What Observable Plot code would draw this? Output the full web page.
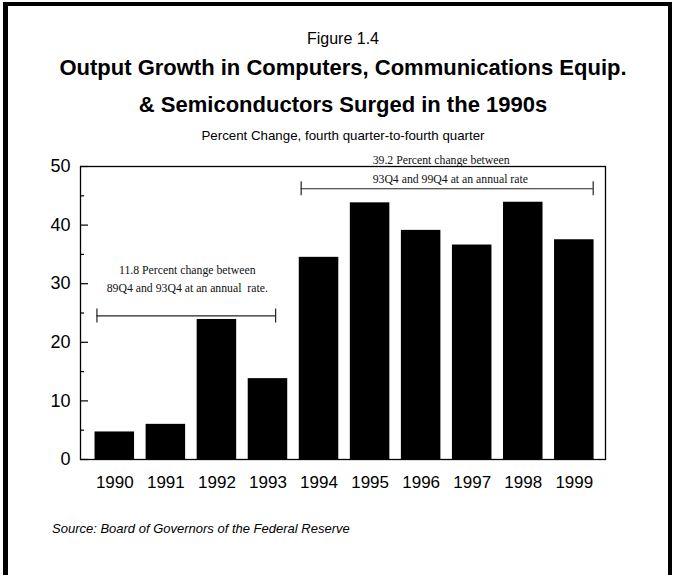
<!DOCTYPE html>
<html>
<head>
<meta charset="utf-8">
<script src="https://cdn.jsdelivr.net/npm/d3@7"></script>
<script src="https://cdn.jsdelivr.net/npm/@observablehq/plot@0.6"></script>
<style>
  html, body { margin: 0; padding: 0; background: #fff; }
  body { width: 674px; height: 575px; position: relative; overflow: hidden; font-family: "Liberation Sans", Arial, sans-serif; color: #000; }
  .border { position: absolute; left: 3px; top: 2px; width: 660px; height: 600px; border-left: 5px solid #000; border-top: 4px solid #000; border-right: 4px solid #000; }
  .t { position: absolute; left: 0; width: 686px; text-align: center; line-height: 1; white-space: nowrap; }
  #chart { position: absolute; left: 0; top: 140px; }
  #chart svg text { white-space: pre; }
</style>
</head>
<body>
<div class="border"></div>
<div class="t" style="top:31px;font-size:16px;">Figure 1.4</div>
<div class="t" style="top:57.4px;font-size:22px;font-weight:bold;">Output Growth in Computers, Communications Equip.</div>
<div class="t" style="top:94.4px;font-size:22px;font-weight:bold;">&amp; Semiconductors Surged in the 1990s</div>
<div class="t" style="top:128.7px;font-size:13.3px;">Percent Change, fourth quarter-to-fourth quarter</div>
<div id="chart"></div>
<div style="position:absolute;left:52px;top:522px;font-size:13px;font-style:italic;line-height:1;white-space:nowrap;">Source: Board of Governors of the Federal Reserve</div>
<script>
// ---- data ----
const years = [1990, 1991, 1992, 1993, 1994, 1995, 1996, 1997, 1998, 1999];
const growth = [4.7, 6.0, 23.9, 13.8, 34.5, 43.8, 39.1, 36.6, 43.9, 37.5];
const yTicks = [0, 10, 20, 30, 40, 50];
const yMinorTicks = [5, 15, 25, 35, 45];

// annotation periods (brackets): start, end, level
const periodStart = [1989.65, 1993.65];
const periodEnd = [1993.15, 1999.37];
const periodLevel = [24.5, 46.2];

// annotation text lines
const leftNoteText = ["11.8 Percent change between", "89Q4 and 93Q4 at an annual  rate."];
const leftNoteX = [1991.42, 1991.42];
const leftNoteY = [31.7, 28.65];
const rightNoteText = ["39.2 Percent change between", "93Q4 and 99Q4 at an annual rate"];
const rightNoteX = [1995.05, 1995.05];
const rightNoteY = [50.5, 47.25];

// ---- tables ----
const bars = years.map((year, i) => ({year, value: growth[i]}));
const brackets = periodStart.map((s, i) => ({from: s, to: periodEnd[i], level: periodLevel[i]}));
const leftNotes = leftNoteText.map((text, i) => ({text, x: leftNoteX[i], y: leftNoteY[i]}));
const rightNotes = rightNoteText.map((text, i) => ({text, x: rightNoteX[i], y: rightNoteY[i]}));

const W = 674, ML = 80, MR = 69;
const frameW = W - ML - MR;
const half = 0.387;
const tick = 1.2;
const serif = "'Liberation Serif', 'Times New Roman', serif";

const chart = Plot.plot({
  width: W,
  height: 380,
  marginLeft: ML,
  marginRight: MR,
  marginTop: 26,
  marginBottom: 61,
  style: {fontFamily: "'Liberation Sans', Arial, sans-serif", background: "transparent", overflow: "visible", color: "#000"},
  x: {domain: [1989.328, 1999.611], label: null},
  y: {domain: [0, 50], label: null},
  marks: [
    Plot.rectY(bars, {x1: d => d.year - half, x2: d => d.year + half, y1: 0, y2: "value", fill: "#000"}),
    Plot.frame({stroke: "#000", strokeWidth: 1.3}),
    Plot.ruleY(yTicks, {insetRight: frameW - 8, stroke: "#000", strokeWidth: 1.2}),
    Plot.ruleY(yMinorTicks, {insetRight: frameW - 4, stroke: "#000", strokeWidth: 1.2}),
    Plot.axisY(yTicks, {tickSize: 0, tickPadding: 10, fontSize: 18, label: null}),
    Plot.axisX(years, {tickSize: 0, tickPadding: 16, tickFormat: d => String(d), fontSize: 17, label: null}),
    Plot.ruleY(brackets, {x1: "from", x2: "to", y: "level", stroke: "#222", strokeWidth: 1.2}),
    Plot.ruleX(brackets, {x: "from", y1: d => d.level - tick, y2: d => d.level + tick, stroke: "#222", strokeWidth: 1.2}),
    Plot.ruleX(brackets, {x: "to", y1: d => d.level - tick, y2: d => d.level + tick, stroke: "#222", strokeWidth: 1.2}),
    Plot.text(leftNotes, {x: "x", y: "y", text: "text", textAnchor: "middle", lineAnchor: "bottom",
      fontFamily: serif, fontSize: 11.75, fill: "#111"}),
    Plot.text(rightNotes, {x: "x", y: "y", text: "text", textAnchor: "start", lineAnchor: "bottom",
      fontFamily: serif, fontSize: 11.75, fill: "#111"})
  ]
});
document.getElementById("chart").appendChild(chart);
</script>
</body>
</html>
